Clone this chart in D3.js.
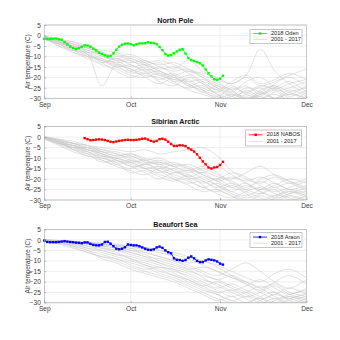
<!DOCTYPE html>
<html><head><meta charset="utf-8">
<script src="https://cdn.jsdelivr.net/npm/d3@7"></script>
<style>body{margin:0;background:#fff}svg{display:block;font-family:"Liberation Sans",Arial,sans-serif}</style>
</head><body><svg id="c" width="340" height="340"></svg>
<script>
// ---- data ----
const panelTitles = ["North Pole", "Sibirian Arctic", "Beaufort Sea"];
const legend2018 = ["2018 Oden", "2018 NABOS", "2018 Araon"];
const legendClim = "2001 - 2017";
const colors2018 = ["#00ff00", "#ff0000", "#0000ff"];
const yTicks = [5, 0, -5, -10, -15, -20, -25, -30];
const xTickLabels = ["Sep", "Oct", "Nov", "Dec"];
const xTickDates = ["2018-09-01", "2018-10-01", "2018-11-01", "2018-12-01"];

// 2018 daily series (start day offset from Sep 1)
const odenStart = 0;
const oden = [-1.6,-1.7,-1.7,-1.6,-1.4,-1.8,-2.0,-3.2,-4.2,-5.3,-6.0,-6.5,-6.0,-5.4,-4.7,-4.8,-5.3,-6.3,-7.1,-8.2,-8.8,-9.5,-10.0,-9.8,-8.5,-6.8,-5.3,-4.4,-3.9,-3.8,-4.1,-4.7,-4.2,-3.8,-3.8,-3.7,-3.2,-3.5,-3.6,-4.2,-5.5,-7.0,-8.8,-9.6,-9.4,-8.5,-7.6,-6.8,-6.5,-8.6,-10.8,-11.7,-12.2,-12.7,-13.2,-14.3,-16.2,-18.0,-19.5,-20.8,-21.1,-20.6,-19.2];
const nabosStart = 14;
const nabos = [-0.5,-1.0,-1.5,-1.4,-1.2,-1.1,-1.2,-1.4,-1.8,-2.2,-2.4,-2.1,-1.8,-1.6,-1.4,-1.3,-1.4,-1.4,-1.3,-1.1,-0.8,-0.7,-1.2,-1.8,-2.2,-1.8,-1.0,-0.8,-1.2,-2.2,-3.3,-4.2,-4.2,-3.9,-4.0,-4.3,-5.3,-6.0,-6.9,-8.2,-9.9,-11.6,-13.0,-14.5,-15.0,-14.5,-14.3,-13.3,-11.8];
const araonStart = 0;
const araon = [-0.3,-1.0,-1.1,-1.1,-1.1,-1.0,-0.8,-0.6,-0.8,-1.0,-1.1,-1.3,-1.4,-1.6,-1.2,-1.2,-1.9,-2.4,-2.6,-2.6,-2.2,-1.0,-0.9,-1.8,-3.0,-4.2,-4.5,-4.2,-3.5,-2.2,-2.4,-2.6,-2.6,-3.0,-3.6,-4.2,-4.7,-4.8,-4.5,-3.6,-3.2,-3.8,-5.0,-5.9,-6.4,-8.8,-9.5,-9.6,-10.0,-9.6,-8.5,-7.9,-8.8,-10.0,-10.6,-10.6,-9.8,-9.3,-9.5,-9.8,-10.3,-11.3,-11.8];

// 2001-2017 series, sampled on these days after Sep 1
const climDays = [0,5,10,15,20,25,30,35,40,45,50,55,60,65,70,75,80,85,91];
const climNorthPole = [
[-0.5,-3,-5,-7,-9,-11,-13,-12,-15,-17,-16,-19,-22,-26,-24,-28,-25,-22,-27],
[-1,-2,-4,-6,-8,-10,-9,-12,-14,-13,-16,-20,-25,-28,-30,-27,-24,-29,-26],
[-0.8,-4,-6,-5,-10,-12,-15,-14,-17,-20,-22,-21,-24,-27,-22,-20,-25,-30,-31],
[-1.5,-3,-6,-9,-24,-14,-16,-18,-17,-21,-19,-23,-28,-31,-26,-29,-23,-20,-24],
[-0.3,-2,-3,-6,-7,-8,-11,-13,-12,-14,-17,-18,-20,-23,-19,-6.5,-17,-23,-28],
[-1.2,-5,-8,-10,-11,-13,-12,-16,-19,-18,-22,-25,-27,-24,-28,-30,-27,-25,-22],
[-0.6,-2.5,-4,-8,-12,-13,-17,-19,-20,-23,-25,-24,-28,-30,-32,-27,-30,-28,-30],
[-1,-4,-7,-8,-9,-14,-18,-16,-18,-22,-21,-26,-30,-29,-25,-27,-30,-26,-29],
[-0.4,-3,-5,-9,-12,-15,-14,-17,-21,-19,-23,-27,-29,-25,-27,-24,-26,-31,-27],
[-1.8,-4,-8,-11,-14,-16,-19,-20,-18,-22,-26,-28,-30,-28,-30,-29,-32,-30,-31],
[-0.7,-2,-5,-7,-10,-11,-10,-13,-16,-15,-18,-22,-26,-22,-19,-23,-21,-18,-21],
[-1.3,-3.5,-6,-10,-13,-11,-14,-17,-15,-19,-24,-22,-25,-29,-31,-28,-25,-28,-24],
[-0.9,-5,-7,-9,-13,-17,-20,-18,-22,-24,-20,-23,-26,-29,-27,-30,-28,-31,-29],
[-0.2,-2,-4,-6,-9,-9,-12,-14,-13,-16,-12,-17,-21,-23,-20,-24,-22,-19,-16],
[-1.6,-4,-5,-8,-11,-15,-17,-15,-19,-21,-23,-27,-24,-27,-29,-26,-24,-27,-30],
[-1,-3,-7,-10,-12,-14,-16,-20,-23,-20,-24,-26,-29,-31,-28,-25,-30,-27,-25],
[-0.5,-2,-3,-5,-8,-12,-11,-14,-17,-19,-17,-20,-23,-26,-30,-28,-26,-23,-21]
];
const climSiberia = [
[0,-2,-4,-6,-7,-9,-8,-11,-13,-12,-15,-18,-21,-24,-22,-26,-28,-25,-27],
[-0.5,-3,-5,-5,-8,-10,-12,-11,-14,-17,-16,-20,-23,-27,-29,-27,-24,-28,-30],
[0.2,-1.5,-3,-4,-5,-6,-7,-6,-8,-7,-6,-5,-9,-16,-20,-22,-19,-21,-24],
[-0.3,-2.5,-6,-9,-11,-14,-16,-18,-15,-19,-21,-24,-26,-23,-27,-30,-28,-26,-29],
[0,-2,-4,-7,-10,-12,-11,-14,-16,-18,-20,-19,-23,-26,-28,-25,-22,-25,-23],
[-0.8,-3,-5,-6,-9,-13,-15,-13,-16,-20,-23,-26,-25,-28,-31,-28,-30,-27,-26],
[-0.2,-1,-3,-5,-6,-8,-10,-13,-12,-14,-17,-15,-18,-20,-17,-14,-18,-22,-20],
[0.1,-2,-5,-8,-12,-11,-14,-17,-20,-17,-19,-22,-20,-24,-26,-29,-31,-28,-30],
[-0.6,-3,-4,-6,-8,-11,-13,-15,-14,-16,-18,-21,-24,-22,-25,-27,-25,-30,-28],
[-1,-4,-7,-9,-10,-12,-17,-16,-19,-21,-18,-23,-27,-29,-26,-24,-27,-29,-31],
[0,-1.5,-3,-4,-7,-9,-8,-10,-12,-14,-13,-16,-19,-21,-24,-20,-18,-21,-25],
[-0.4,-2,-6,-8,-9,-10,-12,-15,-17,-15,-20,-24,-22,-26,-23,-26,-29,-27,-24],
[0.3,-1,-2,-4,-6,-7,-9,-11,-10,-13,-15,-17,-14,-18,-21,-19,-22,-25,-28],
[-0.7,-3,-5,-7,-11,-13,-12,-15,-18,-20,-22,-21,-25,-28,-30,-32,-29,-26,-28],
[0,-2.5,-4,-5,-7,-8,-11,-12,-13,-16,-19,-17,-21,-19,-22,-25,-23,-20,-22],
[-0.2,-2,-3,-6,-8,-10,-9,-12,-15,-13,-14,-18,-20,-17,-19,-23,-26,-24,-21],
[-0.5,-3.5,-6,-7,-9,-11,-14,-13,-11,-14,-16,-14,-17,-22,-25,-21,-24,-22,-26]
];
const climBeaufort = [
[0,-0.3,-0.8,-1.5,-2,-3,-4,-3.5,-5,-7,-9,-12,-15,-18,-20,-23,-21,-25,-27],
[-0.2,-0.5,-1,-1,-1.5,-2,-3,-5,-6,-8,-11,-10,-13,-17,-21,-25,-28,-26,-24],
[0,-0.8,-1.5,-2,-3,-2.5,-4,-6,-8,-10,-12,-15,-17,-14,-11,-15,-20,-23,-19],
[-0.5,-1.5,-3,-5,-7,-9,-11,-13,-16,-18,-21,-24,-26,-29,-27,-30,-28,-31,-29],
[0,-0.5,-1,-2,-3,-4,-6,-8,-9,-11,-14,-18,-22,-25,-28,-31,-29,-27,-30],
[-0.3,-1,-2,-4,-6,-8,-10,-12,-14,-17,-19,-22,-25,-24,-27,-25,-22,-26,-28],
[-0.1,-0.5,-1,-1.5,-2,-2.5,-3,-4,-5,-6,-8,-10,-12,-15,-18,-20,-16,-14,-18],
[-0.6,-2,-4,-6,-8,-10,-13,-15,-17,-19,-22,-25,-28,-30,-32,-29,-26,-28,-25],
[-0.2,-0.7,-1.5,-3,-5,-7,-8,-10,-12,-15,-17,-20,-23,-21,-24,-27,-30,-27,-29],
[0,-0.4,-1,-2,-4,-6,-9,-11,-13,-14,-16,-19,-21,-24,-22,-19,-23,-26,-23],
[-0.4,-1.2,-2.5,-4,-5,-7,-9,-12,-15,-17,-20,-23,-26,-29,-30,-27,-25,-29,-31],
[-0.1,-0.6,-1.2,-2,-3.5,-5,-7,-9,-11,-13,-15,-17,-19,-22,-25,-28,-26,-23,-26],
[-0.3,-1,-3,-5,-9,-11,-14,-16,-18,-20,-23,-26,-29,-27,-30,-28,-31,-29,-27],
[0,-0.5,-1,-1.5,-2.5,-4,-5,-7,-10,-12,-14,-13,-15,-18,-21,-24,-20,-17,-21],
[-0.2,-0.8,-2,-3,-4,-5,-6,-8,-11,-14,-18,-21,-24,-27,-25,-22,-25,-28,-30],
[-0.5,-1.5,-3.5,-6,-8,-9,-12,-14,-13,-16,-19,-22,-20,-23,-26,-29,-31,-28,-26],
[0,-0.3,-0.7,-1.2,-2,-3,-5,-6,-8,-10,-13,-16,-19,-17,-20,-23,-27,-30,-28]
];

// ---- drawing ----
const svg = d3.select("#c");
const parse = d3.timeParse("%Y-%m-%d");
const sep1 = parse("2018-09-01");
const dayDate = d => d3.timeDay.offset(sep1, d);
const left = 44.3, right = 306.5;
const tops = [25, 126.6, 229.4];
const ph = 73.4;
const x = d3.scaleTime().domain([parse("2018-09-01"), parse("2018-12-01")]).range([left, right]);

const series2018 = [
  {start: odenStart, vals: oden},
  {start: nabosStart, vals: nabos},
  {start: araonStart, vals: araon}
];
const clim = [climNorthPole, climSiberia, climBeaufort];
const legendBoxes = [[250, 29.3, 52, 14], [245.7, 130, 56, 16], [250, 232.7, 52, 14.6]];

panelTitles.forEach((title, i) => {
  const top = tops[i];
  const y = d3.scaleLinear().domain([-30, 5]).range([top + ph, top]);
  const g = svg.append("g");
  const clipId = "clip" + i;
  svg.append("clipPath").attr("id", clipId).append("rect")
    .attr("x", left).attr("y", top).attr("width", right - left).attr("height", ph);

  // grid
  g.append("g").selectAll("line").data(yTicks).join("line")
    .attr("x1", left).attr("x2", right).attr("y1", d => y(d)).attr("y2", d => y(d))
    .attr("stroke", "#e4e4e4").attr("stroke-width", 0.6);
  g.append("g").selectAll("line").data(xTickDates.slice(1, 3)).join("line")
    .attr("x1", d => x(parse(d))).attr("x2", d => x(parse(d))).attr("y1", top).attr("y2", top + ph)
    .attr("stroke", "#e4e4e4").attr("stroke-width", 0.6);

  // climatology lines
  const line = d3.line().x((d, k) => x(dayDate(climDays[k]))).y(d => y(d)).curve(d3.curveCatmullRom);
  g.append("g").attr("clip-path", `url(#${clipId})`).selectAll("path").data(clim[i]).join("path")
    .attr("d", line).attr("fill", "none").attr("stroke", "#c9c9c9").attr("stroke-width", 0.55);

  // 2018 series
  const s = series2018[i];
  const pts = s.vals.map((v, k) => [x(dayDate(s.start + k)), y(v)]);
  g.append("path").attr("d", d3.line()(pts)).attr("fill", "none")
    .attr("stroke", colors2018[i]).attr("stroke-width", 0.8);
  g.append("g").selectAll("rect").data(pts).join("rect")
    .attr("x", d => d[0] - 1.2).attr("y", d => d[1] - 1.2).attr("width", 2.4).attr("height", 2.4)
    .attr("fill", colors2018[i]);

  // axes frame
  g.append("rect").attr("x", left).attr("y", top).attr("width", right - left).attr("height", ph)
    .attr("fill", "none").attr("stroke", "#a6a6a6").attr("stroke-width", 0.6);

  const yAxis = d3.axisLeft(y).tickValues(yTicks).tickSize(-2).tickPadding(3.5);
  const ya = g.append("g").attr("transform", `translate(${left},0)`).call(yAxis);
  const xAxis = d3.axisBottom(x).tickValues(xTickDates.map(parse)).tickFormat((d, k) => xTickLabels[k]).tickSize(-2).tickPadding(3.5);
  const xa = g.append("g").attr("transform", `translate(0,${top + ph})`).call(xAxis);
  [ya, xa].forEach(a => {
    a.select(".domain").remove();
    a.selectAll(".tick line").attr("stroke", "#8a8a8a").attr("stroke-width", 0.5);
    a.selectAll("text").attr("font-size", 6.6).attr("fill", "#3a3a3a").attr("font-family", "Liberation Sans, Arial, sans-serif");
  });

  // title
  g.append("text").attr("x", (left + right) / 2).attr("y", top - 2.2).attr("text-anchor", "middle")
    .attr("font-size", 7.2).attr("font-weight", "bold").attr("fill", "#111").text(title);
  // y label
  g.append("text").attr("transform", `translate(28.5,${top + ph / 2}) rotate(-90)`)
    .attr("text-anchor", "middle").attr("dominant-baseline", "middle")
    .attr("font-size", 6.4).attr("fill", "#333").text("Air temperature (C)");

  // legend
  const [lx, ly, lw, lh] = legendBoxes[i];
  const lg = g.append("g");
  lg.append("rect").attr("x", lx).attr("y", ly).attr("width", lw).attr("height", lh)
    .attr("fill", "#fff").attr("stroke", "#a0a0a0").attr("stroke-width", 0.6);
  const r1 = ly + lh * 0.3, r2 = ly + lh * 0.72;
  lg.append("line").attr("x1", lx + 3).attr("x2", lx + 17).attr("y1", r1).attr("y2", r1)
    .attr("stroke", colors2018[i]).attr("stroke-width", 0.8);
  lg.append("rect").attr("x", lx + 10 - 1.2).attr("y", r1 - 1.2).attr("width", 2.4).attr("height", 2.4).attr("fill", colors2018[i]);
  lg.append("line").attr("x1", lx + 3).attr("x2", lx + 17).attr("y1", r2).attr("y2", r2)
    .attr("stroke", "#c9c9c9").attr("stroke-width", 0.6);
  lg.append("text").attr("x", lx + 21).attr("y", r1).attr("dominant-baseline", "middle")
    .attr("font-size", 5.6).attr("fill", "#222").text(legend2018[i]);
  lg.append("text").attr("x", lx + 21).attr("y", r2).attr("dominant-baseline", "middle")
    .attr("font-size", 5.6).attr("fill", "#222").text(legendClim);
});
</script></body></html>
